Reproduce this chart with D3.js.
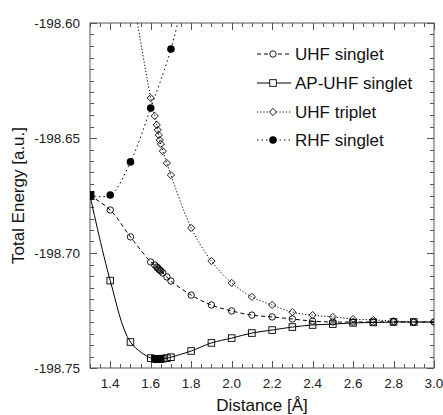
<!DOCTYPE html>
<html><head><meta charset="utf-8">
<script src="https://cdn.jsdelivr.net/npm/d3@7"></script>
<style>body{margin:0;background:#fff;} svg{display:block;font-family:"Liberation Sans",Arial,Helvetica,sans-serif;}</style>
</head><body><svg id="c" width="443" height="415"></svg>
<script>
// ---- data ----
const uhfSingletX = [1.3,1.4,1.5,1.6,1.62,1.63,1.635,1.64,1.645,1.65,1.66,1.68,1.7,1.8,1.9,2.0,2.1,2.2,2.3,2.4,2.5,2.6,2.7,2.8,2.9,3.0];
const uhfSingletY = [-198.675,-198.6813,-198.6930,-198.7039,-198.7052,-198.7061,-198.7065,-198.7070,-198.7074,-198.7078,-198.7087,-198.7104,-198.7122,-198.7183,-198.7226,-198.7252,-198.7270,-198.7278,-198.7287,-198.7296,-198.7300,-198.7300,-198.7300,-198.7300,-198.7300,-198.7300];
const apUhfX = [1.3,1.4,1.5,1.6,1.62,1.63,1.635,1.64,1.645,1.65,1.66,1.68,1.7,1.8,1.9,2.0,2.1,2.2,2.3,2.4,2.5,2.6,2.7,2.8,2.9,3.0];
const apUhfY = [-198.675,-198.7120,-198.7387,-198.7457,-198.7460,-198.7461,-198.7461,-198.7461,-198.7461,-198.7460,-198.7459,-198.7457,-198.7453,-198.7426,-198.7391,-198.7370,-198.7348,-198.7335,-198.7322,-198.7313,-198.7309,-198.7304,-198.7302,-198.7300,-198.7300,-198.7300];
const apUhfFilledX = [1.3,1.62,1.63,1.635,1.64,1.645,1.65];
const uhfTripletX = [1.5,1.6,1.62,1.63,1.635,1.64,1.645,1.65,1.66,1.68,1.7,1.8,1.9,2.0,2.1,2.2,2.3,2.4,2.5,2.6,2.7,2.8,2.9,3.0];
const uhfTripletY = [-198.5824,-198.6326,-198.6404,-198.6443,-198.6465,-198.6487,-198.6509,-198.6526,-198.6557,-198.6609,-198.6661,-198.6891,-198.7035,-198.7130,-198.7191,-198.7226,-198.7257,-198.7270,-198.7278,-198.7287,-198.7291,-198.7296,-198.7300,-198.7300];
const rhfSingletX = [1.3,1.4,1.5,1.6,1.7,1.8];
const rhfSingletY = [-198.675,-198.6748,-198.6604,-198.6370,-198.6113,-198.575];
const seriesNames = ["UHF singlet","AP-UHF singlet","UHF triplet","RHF singlet"];
const xTickLabels = [1.4,1.6,1.8,2.0,2.2,2.4,2.6,2.8,3.0];
const yTickLabels = [-198.60,-198.65,-198.70,-198.75];

// ---- layout ----
const svg = d3.select("#c");
const L = 90, R = 434, T = 23, B = 368;
const x = d3.scaleLinear().domain([1.3,3.0]).range([L,R]);
const y = d3.scaleLinear().domain([-198.75,-198.60]).range([B,T]);

svg.append("defs").append("clipPath").attr("id","clip")
  .append("rect").attr("x",L).attr("y",T).attr("width",R-L).attr("height",B-T);

// frame
svg.append("rect").attr("x",L).attr("y",T).attr("width",R-L).attr("height",B-T)
  .attr("fill","none").attr("stroke","#555").attr("stroke-width",1);

// ticks
const ax = svg.append("g").attr("stroke","#555").attr("stroke-width",1);
const xMinor = d3.range(0,35).map(i => +(1.3 + i*0.05).toFixed(3)).filter(v => v<=3.0001);
xMinor.forEach(v => {
  const major = xTickLabels.some(t => Math.abs(t-v)<1e-6);
  const len = major ? 7 : 4;
  const px = Math.round(x(v))+0.5;
  ax.append("line").attr("x1",px).attr("x2",px).attr("y1",B).attr("y2",B-len);
  ax.append("line").attr("x1",px).attr("x2",px).attr("y1",T).attr("y2",T+len);
});
const yMinor = d3.range(0,31).map(i => +(-198.75 + i*0.005).toFixed(4));
yMinor.forEach(v => {
  const major = yTickLabels.some(t => Math.abs(t-v)<1e-6);
  const len = major ? 7 : 4;
  const py = Math.round(y(v))+0.5;
  ax.append("line").attr("y1",py).attr("y2",py).attr("x1",L).attr("x2",L+len);
  ax.append("line").attr("y1",py).attr("y2",py).attr("x1",R).attr("x2",R-len);
});

// tick labels
svg.append("g").selectAll("text").data(xTickLabels).join("text")
  .attr("x",d=>x(d)).attr("y",388).attr("text-anchor","middle")
  .attr("font-size","13.5px").attr("fill","#222").text(d=>d.toFixed(1));
svg.append("g").selectAll("text").data(yTickLabels).join("text")
  .attr("x",80).attr("y",d=>y(d)).attr("dy","0.35em").attr("text-anchor","end")
  .attr("font-size","13.5px").attr("fill","#222").text(d=>d.toFixed(2));

// axis titles
svg.append("text").attr("x",(L+R)/2).attr("y",411).attr("text-anchor","middle")
  .attr("font-size","17px").attr("fill","#111").text("Distance [Å]");
svg.append("text").attr("transform",`translate(24,${(T+B)/2}) rotate(-90)`)
  .attr("text-anchor","middle").attr("font-size","17px").attr("fill","#111").text("Total Energy [a.u.]");

// series
const line = d3.line().x(d=>x(d[0])).y(d=>y(d[1])).curve(d3.curveCatmullRom.alpha(0.5));
const zip = (xs,ys) => xs.map((v,i)=>[v,ys[i]]);
const series = [
  {name:seriesNames[0], data:zip(uhfSingletX,uhfSingletY), dash:"4,3", marker:"circle", fill:"none"},
  {name:seriesNames[1], data:zip(apUhfX,apUhfY), dash:null, marker:"square", fill:"none"},
  {name:seriesNames[2], data:zip(uhfTripletX,uhfTripletY), dash:"1.2,2", marker:"diamond", fill:"none"},
  {name:seriesNames[3], data:zip(rhfSingletX,rhfSingletY), dash:"1.5,3", marker:"dot", fill:"#000"}
];
const plot = svg.append("g").attr("clip-path","url(#clip)");

function drawMarker(g, type, cx, cy, fill){
  if(type==="circle") g.append("circle").attr("cx",cx).attr("cy",cy).attr("r",3.2).attr("fill",fill).attr("stroke","#000").attr("stroke-width",0.9);
  else if(type==="dot") g.append("circle").attr("cx",cx).attr("cy",cy).attr("r",3.8).attr("fill","#000");
  else if(type==="square") g.append("rect").attr("x",cx-3.3).attr("y",cy-3.3).attr("width",6.6).attr("height",6.6).attr("fill",fill).attr("stroke","#000").attr("stroke-width",0.9);
  else if(type==="diamond") g.append("path").attr("d",`M${cx},${cy-3.6}L${cx+3.6},${cy}L${cx},${cy+3.6}L${cx-3.6},${cy}Z`).attr("fill",fill).attr("stroke","#000").attr("stroke-width",0.9);
}

// draw order: triplet, RHF, UHF singlet, AP-UHF
[2,3,0,1].forEach(i => {
  const s = series[i];
  plot.append("path").datum(s.data).attr("d",line).attr("fill","none")
    .attr("stroke","#000").attr("stroke-width",1).attr("stroke-dasharray",s.dash);
  const mg = plot.append("g");
  s.data.forEach(d => {
    let f = s.fill;
    if(i===1 && apUhfFilledX.some(v=>Math.abs(v-d[0])<1e-6)) f = "#000";
    if(i===1 && Math.abs(d[0]-1.3)<1e-6) return;
    drawMarker(mg, s.marker, x(d[0]), y(d[1]), f);
  });
});
// shared starting point (filled square) at 1.3
drawMarker(plot, "square", x(apUhfX[0]), y(apUhfY[0]), "#000");
svg.select("g[clip-path] rect:last-child").attr("width",8).attr("height",8).attr("x",x(apUhfX[0])-4).attr("y",y(apUhfY[0])-4);

// legend
const legY = [54,83,112,140];
const lg = svg.append("g");
series.forEach((s,i) => {
  lg.append("line").attr("x1",257).attr("x2",291).attr("y1",legY[i]).attr("y2",legY[i])
    .attr("stroke","#000").attr("stroke-width",1).attr("stroke-dasharray",s.dash);
  drawMarker(lg, s.marker, 273, legY[i], s.fill==="none" ? "#fff" : s.fill);
  lg.append("text").attr("x",295).attr("y",legY[i]).attr("dy","0.36em")
    .attr("font-size","17px").attr("fill","#111").text(s.name);
});
</script></body></html>
